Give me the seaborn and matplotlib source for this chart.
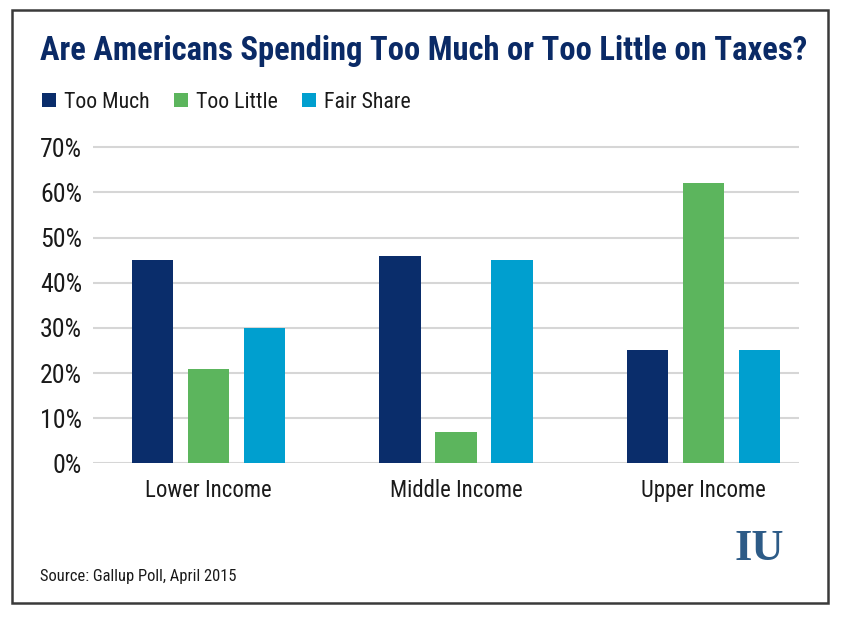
import matplotlib
matplotlib.use('Agg')
import matplotlib.pyplot as plt
import seaborn as sns
import pandas as pd
from matplotlib import font_manager
from matplotlib.patches import Patch, Rectangle

# 数据 (Gallup Poll, April 2015)
groups = ['Lower Income', 'Middle Income', 'Upper Income']
answers = ['Too Much', 'Too Little', 'Fair Share']
too_much = [45, 46, 25]
too_little = [21, 7, 62]
fair_share = [30, 45, 25]
y_ticks = [0, 10, 20, 30, 40, 50, 60, 70]

colors = ['#0a2d6b', '#5cb55d', '#009fcf']
navy = '#0a2a66'

sns.set_theme(style='white')

# 找一个窄体字体 (参考图用的是 condensed 字体)
installed = {f.name for f in font_manager.fontManager.ttflist}
narrow = 'DejaVu Sans'
for cand in ['Liberation Sans Narrow', 'Roboto Condensed', 'Open Sans Condensed',
             'Noto Sans Condensed', 'Roboto', 'Liberation Sans']:
    if cand in installed:
        narrow = cand
        break
serif = 'Liberation Serif' if 'Liberation Serif' in installed else 'DejaVu Serif'
plt.rcParams['font.family'] = [narrow, 'DejaVu Sans']

df = pd.DataFrame({
    'group': groups * 3,
    'answer': [a for a in answers for _ in groups],
    'value': too_much + too_little + fair_share,
})

W, H = 841, 617
fig = plt.figure(figsize=(W / 100, H / 100), dpi=100)
fig.patch.set_facecolor('white')
renderer = fig.canvas.get_renderer()


def fit_size(s, target_px, weight='normal', base=20):
    """按目标像素宽度求字号"""
    t = fig.text(0, 0, s, fontsize=base, fontweight=weight)
    w = t.get_window_extent(renderer).width
    t.remove()
    return base * target_px / w


fs_title = fit_size('Are Americans Spending Too Much or Too Little on Taxes?', 767, 'bold')
fs_cat = fit_size('Lower Income', 126)
fs_tick = fit_size('70%', 42)
fs_leg = fit_size('Too Much', 86)
fs_src = fit_size('Source: Gallup Poll, April 2015', 196)

# 图表区域 (像素换算)
px_per_unit = 316 / 70
ax = fig.add_axes([93 / W, (H - 463.3) / H, 706 / W, 71 * px_per_unit / H])

sns.barplot(data=df, x='group', y='value', hue='answer', hue_order=answers,
            palette=colors, saturation=1, width=0.68, gap=0.26,
            linewidth=0, legend=False, ax=ax)

ax.set_xlim(-0.467, 2.386)
ax.set_ylim(0, 71)
ax.set_yticks(y_ticks)
ax.set_yticklabels([f'{v}%' for v in y_ticks])
ax.set_xlabel('')
ax.set_ylabel('')
ax.yaxis.grid(True, color='#d6d6d6', linewidth=1.5)
ax.set_axisbelow(True)
sns.despine(ax=ax, left=True, bottom=True)
ax.tick_params(axis='y', length=0, pad=8, labelsize=fs_tick, colors='#1a1a1a')
ax.tick_params(axis='x', length=0, pad=11, labelsize=fs_cat, colors='#1a1a1a')

# 标题
fig.text(40 / W, 1 - 51 / H, 'Are Americans Spending Too Much or Too Little on Taxes?',
         ha='left', va='center', fontsize=fs_title, fontweight='bold', color=navy)

# 图例
u = fs_leg * 100 / 72
handles = [Patch(facecolor=c, edgecolor='none', label=a) for c, a in zip(colors, answers)]
fig.legend(handles=handles, loc='center left', bbox_to_anchor=(42 / W, 1 - 102 / H),
           ncol=3, frameon=False, fontsize=fs_leg, handlelength=14 / u,
           handleheight=14 / u, handletextpad=8 / u,
           columnspacing=24 / u, borderpad=0, borderaxespad=0,
           labelcolor='#1a1a1a')

# 数据来源
fig.text(40 / W, 1 - 577 / H, 'Source: Gallup Poll, April 2015',
         ha='left', va='center', fontsize=fs_src, color='#1a1a1a')

# Logo
fig.text(759 / W, 1 - 549 / H, 'IU', ha='center', va='center', fontsize=32,
         fontweight='bold', family=serif, color='#2d5b87')

# 外框
fig.add_artist(Rectangle((12 / W, 1 - 603 / H), 816 / W, 593 / H,
                         transform=fig.transFigure, fill=False,
                         edgecolor='#3a3a3a', linewidth=1.8))

fig.savefig('out.png', dpi=100)
